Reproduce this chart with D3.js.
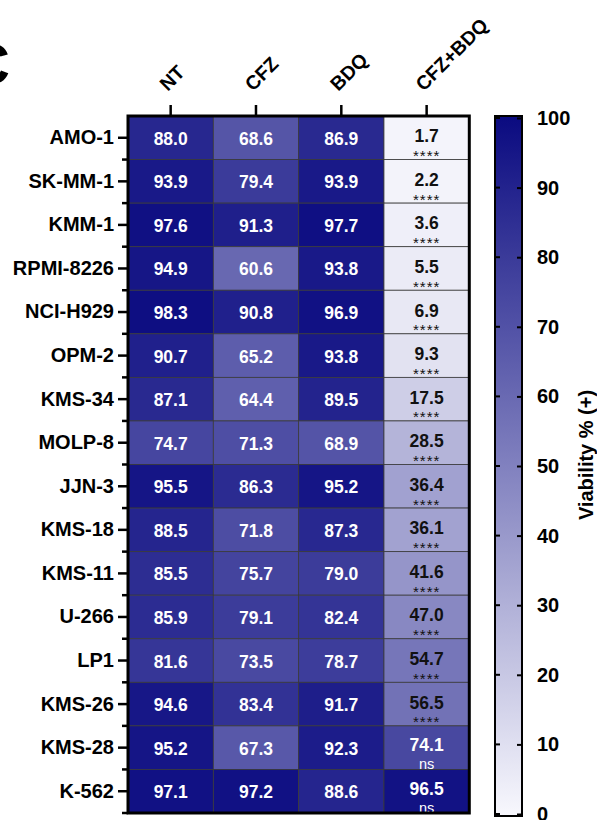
<!DOCTYPE html>
<html>
<head>
<meta charset="utf-8">
<script src="https://cdn.jsdelivr.net/npm/d3@7"></script>
<style>
  html, body { margin: 0; padding: 0; background: #fff; }
  svg { display: block; font-family: "Liberation Sans", Arial, sans-serif; }
</style>
</head>
<body>
<svg id="chart" width="597" height="820"></svg>
<script>
// ---- data ----
const cellLines = ["AMO-1","SK-MM-1","KMM-1","RPMI-8226","NCI-H929","OPM-2","KMS-34","MOLP-8","JJN-3","KMS-18","KMS-11","U-266","LP1","KMS-26","KMS-28","K-562"];
const treatments = ["NT","CFZ","BDQ","CFZ+BDQ"];
const valuesNT     = [88.0,93.9,97.6,94.9,98.3,90.7,87.1,74.7,95.5,88.5,85.5,85.9,81.6,94.6,95.2,97.1];
const valuesCFZ    = [68.6,79.4,91.3,60.6,90.8,65.2,64.4,71.3,86.3,71.8,75.7,79.1,73.5,83.4,67.3,97.2];
const valuesBDQ    = [86.9,93.9,97.7,93.8,96.9,93.8,89.5,68.9,95.2,87.3,79.0,82.4,78.7,91.7,92.3,88.6];
const valuesCombo  = [1.7,2.2,3.6,5.5,6.9,9.3,17.5,28.5,36.4,36.1,41.6,47.0,54.7,56.5,74.1,96.5];
const significance = ["****","****","****","****","****","****","****","****","****","****","****","****","****","****","ns","ns"];
const colorTicks = [0,10,20,30,40,50,60,70,80,90,100];
const colorbarTitle = "Viability % (+)";
const panelLetter = "C";

const series = [valuesNT, valuesCFZ, valuesBDQ, valuesCombo];
const cells = [];
cellLines.forEach((line, i) => {
  treatments.forEach((t, j) => {
    cells.push({ line, t, j, i, v: series[j][i], sig: j === 3 ? significance[i] : null });
  });
});

// ---- layout ----
const svg = d3.select("#chart");
const L = 128, R = 469.3, T = 116, B = 813;
const CB0 = 495, CB1 = 522;
const FONT = "'Liberation Sans', Arial, sans-serif";

const x = d3.scaleBand().domain(treatments).range([L, R]).padding(0);
const y = d3.scaleBand().domain(cellLines).range([T, B]).padding(0);
const color = d3.scaleLinear().domain([0, 100]).range(["#f8f8fd", "#0a0a80"]).interpolate(d3.interpolateRgb);

// panel letter
svg.append("text").attr("x", -32).attr("y", 84)
  .attr("font-family", FONT).attr("font-weight", "bold").attr("font-size", 58)
  .text(panelLetter);

// cells
const g = svg.append("g");
g.selectAll("rect.cell").data(cells).join("rect")
  .attr("class", "cell")
  .attr("x", d => x(d.t)).attr("y", d => y(d.line))
  .attr("width", x.bandwidth()).attr("height", y.bandwidth())
  .attr("fill", d => color(d.v))
  .attr("stroke", "#3a3a3a").attr("stroke-width", 0.8);

// values
g.selectAll("text.val").data(cells).join("text")
  .attr("class", "val")
  .attr("x", d => x(d.t) + x.bandwidth() / 2)
  .attr("y", d => y(d.line) + y.bandwidth() / 2 + (d.j === 3 ? (d.sig === "ns" ? -2.5 : -1.5) : 1))
  .attr("text-anchor", "middle").attr("dominant-baseline", "central")
  .attr("font-family", FONT).attr("font-weight", "bold").attr("font-size", 17.5)
  .attr("fill", d => d.v >= 60 ? "#fff" : "#111")
  .text(d => d.v.toFixed(1));

// significance
g.selectAll("text.sig").data(cells.filter(d => d.sig)).join("text")
  .attr("class", "sig")
  .attr("x", d => x(d.t) + x.bandwidth() / 2)
  .attr("y", d => y(d.line) + y.bandwidth() + (d.sig === "ns" ? 0 : 1.5))
  .attr("text-anchor", "middle")
  .attr("font-family", FONT)
  .attr("font-size", d => d.sig === "ns" ? 14.5 : 15)
  .attr("letter-spacing", d => d.sig === "ns" ? 0 : 1)
  .attr("fill", d => d.v >= 60 ? "#fff" : "#111")
  .text(d => d.sig);

// frame
svg.append("rect").attr("x", L).attr("y", T).attr("width", R - L).attr("height", B - T)
  .attr("fill", "none").attr("stroke", "#000").attr("stroke-width", 3);

// left axis (row labels)
const yAxis = d3.axisLeft(y).tickSize(10).tickPadding(4);
const ya = svg.append("g").attr("transform", `translate(${L},0)`).call(yAxis);
ya.select(".domain").remove();
ya.selectAll(".tick line").attr("stroke", "#000").attr("stroke-width", 2.5);
ya.selectAll(".tick text").attr("font-family", FONT).attr("font-weight", "bold")
  .attr("font-size", 20).attr("fill", "#000");
// minor ticks at row boundaries
const bounds = cellLines.slice(1).map(c => y(c));
bounds.push(B);
svg.append("g").selectAll("line").data(bounds).join("line")
  .attr("x1", L - 6).attr("x2", L).attr("y1", d => d).attr("y2", d => d)
  .attr("stroke", "#000").attr("stroke-width", 2.5);

// top axis ticks
const xa = svg.append("g").attr("transform", `translate(0,${T})`)
  .call(d3.axisTop(x).tickSize(11).tickFormat(""));
xa.select(".domain").remove();
xa.selectAll(".tick line").attr("stroke", "#000").attr("stroke-width", 2.5);
// column labels rotated
svg.append("g").selectAll("text").data(treatments).join("text")
  .attr("transform", d => `translate(${x(d) + x.bandwidth() / 2 - 3},92) rotate(-45)`)
  .attr("font-family", FONT).attr("font-weight", "bold").attr("font-size", 19.5)
  .attr("fill", "#000")
  .text(d => d);

// colorbar
const defs = svg.append("defs");
const grad = defs.append("linearGradient").attr("id", "cbgrad")
  .attr("x1", 0).attr("y1", 1).attr("x2", 0).attr("y2", 0);
d3.range(0, 101, 10).forEach(v => {
  grad.append("stop").attr("offset", v / 100).attr("stop-color", color(v));
});
const cy = d3.scaleLinear().domain([0, 100]).range([B + 1, T + 2]);
svg.append("rect").attr("x", CB0).attr("y", T).attr("width", CB1 - CB0).attr("height", B - T + 3)
  .attr("fill", "url(#cbgrad)").attr("stroke", "#000").attr("stroke-width", 2);
const ca = svg.append("g").attr("transform", `translate(${CB1},0)`)
  .call(d3.axisRight(cy).tickValues(colorTicks).tickSize(-5).tickPadding(15));
ca.select(".domain").remove();
ca.selectAll(".tick line").attr("stroke", "#000").attr("stroke-width", 2);
ca.selectAll(".tick text").attr("font-family", FONT).attr("font-weight", "bold")
  .attr("font-size", 20).attr("fill", "#000");
// inner left ticks
svg.append("g").selectAll("line").data(colorTicks).join("line")
  .attr("x1", CB0).attr("x2", CB0 + 5).attr("y1", d => cy(d)).attr("y2", d => cy(d))
  .attr("stroke", "#000").attr("stroke-width", 2);

// colorbar title
svg.append("text")
  .attr("transform", `translate(593,455) rotate(-90)`)
  .attr("text-anchor", "middle")
  .attr("font-family", FONT).attr("font-weight", "bold").attr("font-size", 20)
  .attr("fill", "#000")
  .text(colorbarTitle);
</script>
</body>
</html>
